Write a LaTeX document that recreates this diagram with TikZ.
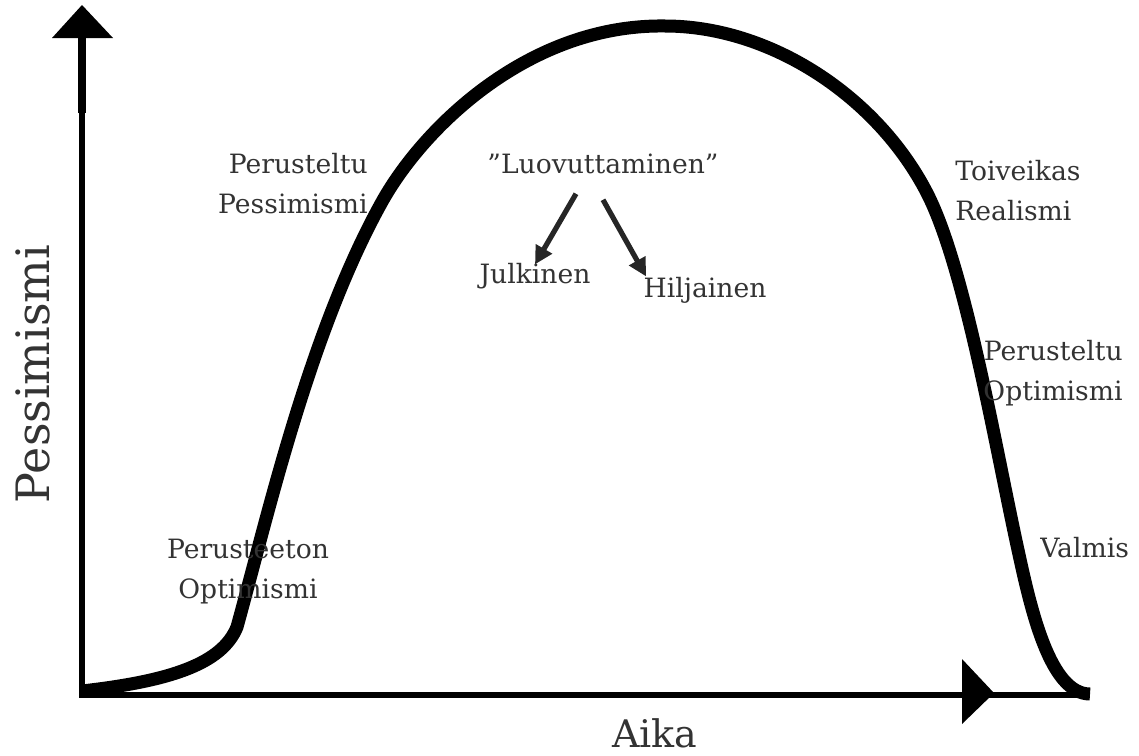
\documentclass[tikz,border=0pt]{standalone}
\usepackage{fontspec}
\setmainfont{DejaVu Serif}
\usetikzlibrary{arrows.meta}
\definecolor{inkgray}{HTML}{333333}
\definecolor{arrowgray}{HTML}{262626}
\tikzset{
  lbl/.style={inner sep=0pt, text=inkgray, font=\fontsize{13.3}{20}\selectfont},
  axislbl/.style={inner sep=0pt, text=inkgray},
  pointer/.style={draw=arrowgray, line width=2.6pt, -{Triangle[length=9pt,width=9pt]}},
}
\begin{document}
\begin{tikzpicture}[x=0.5pt,y=-0.5pt]
\useasboundingbox (0,0) rectangle (1139,755);
\coordinate (origin) at (82,695);
\coordinate (ytop) at (82,38);
\coordinate (xend) at (1080,695);
\draw[line width=3pt] (origin) -- (ytop);
\draw[line width=4pt] (82,113) -- (ytop);
\fill (52,38) -- (113,38) -- (82,5) -- cycle;
\draw[line width=3pt] ([xshift=-1.5pt]origin) -- (xend);
\fill (962,659) -- (962,724) -- (994,693) -- cycle;
\draw[line width=6.5pt] (82,691) .. controls (170,681) and (222,664) .. (237,627)
  .. controls (268,515) and (310,330) .. (383,200)
  .. controls (425,126) and (530,24) .. (665,26)
  .. controls (770,26) and (877,96) .. (927,193)
  .. controls (965,267) and (995,445) .. (1018,550)
  .. controls (1031,610) and (1050,694) .. (1090,694);
\node[axislbl, font=\fontsize{23}{28}\selectfont, rotate=90] (ylbl) at (33,374) {Pessimismi};
\node[axislbl, font=\fontsize{19}{24}\selectfont, anchor=base] (xlbl) at (655,747) {Aika};
\node[lbl, align=right, anchor=base east] (pespes) at (368,213) {Perusteltu\\Pessimismi};
\node[lbl, align=center, anchor=base] (unopt) at (248,598) {Perusteeton\\Optimismi};
\node[lbl, anchor=base] (luo) at (603,173) {”Luovuttaminen”};
\node[lbl, anchor=base] (julk) at (535,283) {Julkinen};
\node[lbl, anchor=base] (hilj) at (705,297) {Hiljainen};
\node[lbl, align=left, anchor=base west] (toive) at (955,220) {Toiveikas\\Realismi};
\node[lbl, align=right, anchor=base east] (perop) at (1123,400) {Perusteltu\\Optimismi};
\node[lbl, anchor=base west] (valmis) at (1040,557) {Valmis};
\draw[pointer] ([xshift=-13.5pt,yshift=-10pt]luo.south) -- ([yshift=-1pt]julk.north);
\draw[pointer] ([yshift=-13pt]luo.south) -- ([xshift=-29.5pt]hilj.north);
\end{tikzpicture}
\end{document}
